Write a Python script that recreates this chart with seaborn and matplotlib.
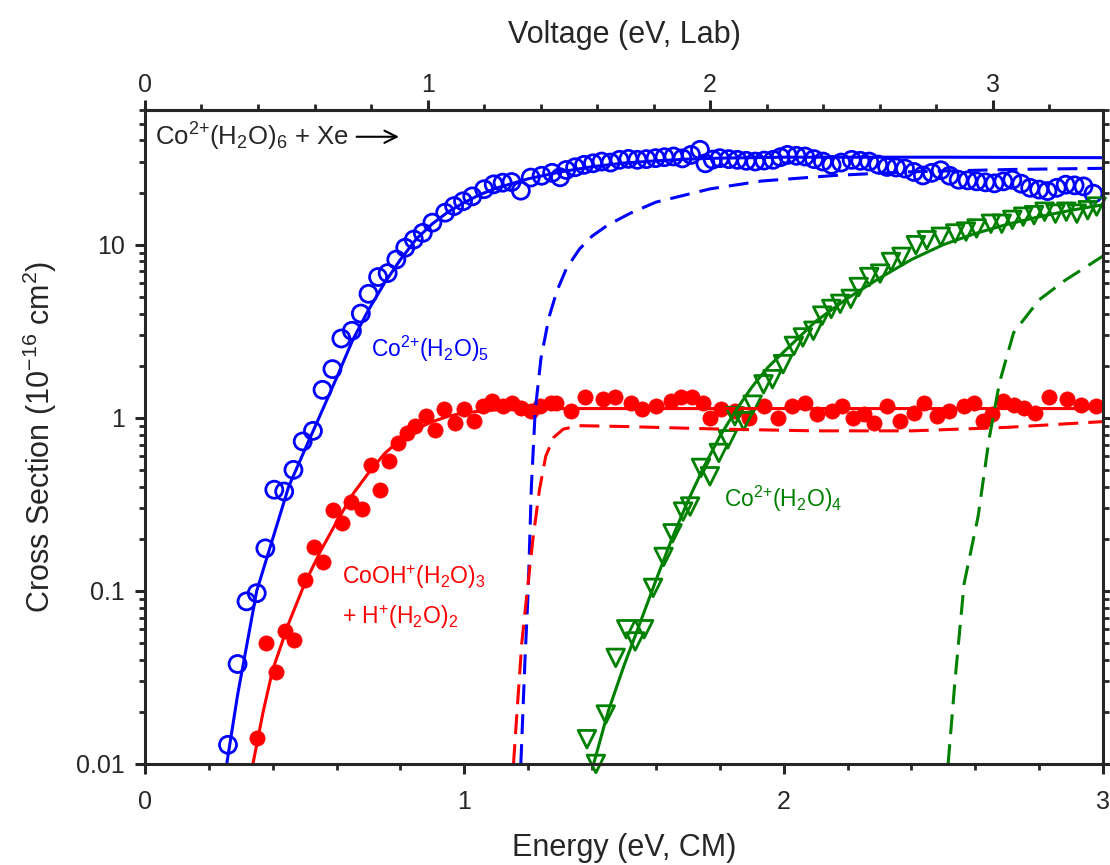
import matplotlib
matplotlib.use("Agg")
import numpy as np
import pandas as pd
import matplotlib.pyplot as plt
import seaborn as sns
from matplotlib.ticker import MultipleLocator, LogLocator, NullFormatter, FixedLocator

# ---------------- data ----------------
# Co2+(H2O)5 product (open blue circles)
blue_E = [0.260, 0.290, 0.318, 0.350, 0.377, 0.405, 0.436, 0.465, 0.494, 0.526,
          0.556, 0.587, 0.615, 0.648, 0.676, 0.700, 0.730, 0.760, 0.787, 0.815,
          0.842, 0.870, 0.900, 0.940, 0.968, 0.996, 1.025, 1.062, 1.092, 1.120,
          1.148, 1.177, 1.208, 1.242, 1.275, 1.300, 1.319, 1.347, 1.375, 1.403,
          1.430, 1.458, 1.486, 1.514, 1.542, 1.570, 1.599, 1.627, 1.655, 1.683,
          1.710, 1.738, 1.755, 1.778, 1.800, 1.828, 1.855, 1.883, 1.911, 1.939,
          1.967, 1.990, 2.012, 2.040, 2.067, 2.095, 2.123, 2.150, 2.180, 2.213,
          2.240, 2.268, 2.296, 2.324, 2.352, 2.380, 2.408, 2.436, 2.464, 2.492,
          2.520, 2.548, 2.576, 2.604, 2.632, 2.660, 2.688, 2.716, 2.744, 2.772,
          2.800, 2.826, 2.855, 2.883, 2.911, 2.939, 2.970]
blue_S = [0.0129, 0.0378, 0.087, 0.097, 0.176, 0.384, 0.375, 0.50, 0.73, 0.84,
          1.45, 1.91, 2.87, 3.18, 4.0, 5.2, 6.5, 6.85, 8.2, 9.6,
          10.7, 11.7, 13.4, 15.3, 16.7, 17.8, 19.0, 20.9, 22.3, 22.8,
          23.0, 20.5, 24.4, 25.0, 26.0, 24.5, 27.0, 28.0, 28.9, 29.5,
          30.2, 29.8, 30.9, 31.3, 30.9, 31.2, 31.6, 32.0, 32.3, 31.5,
          33.0, 35.3, 29.5, 31.0, 31.6, 31.2, 30.9, 30.5, 30.2, 30.6,
          30.9, 32.0, 33.0, 32.6, 32.3, 31.2, 30.2, 28.9, 29.8, 30.9,
          30.5, 30.2, 29.0, 28.1, 27.9, 27.5, 26.3, 25.1, 26.0, 26.9,
          25.0, 23.7, 23.5, 23.2, 22.9, 22.6, 23.2, 23.7, 22.5, 21.3,
          20.8, 20.4, 21.3, 22.2, 22.0, 21.7, 19.7]

# CoOH+(H2O)3 + H+(H2O)2 product (filled red circles)
red_E = [0.351, 0.380, 0.410, 0.438, 0.468, 0.500, 0.528, 0.556, 0.589, 0.617,
         0.645, 0.679, 0.707, 0.735, 0.763, 0.791, 0.819, 0.847, 0.880, 0.908,
         0.936, 0.970, 0.998, 1.031, 1.059, 1.087, 1.121, 1.149, 1.177, 1.210,
         1.238, 1.272, 1.288, 1.333, 1.378, 1.434, 1.473, 1.523, 1.557, 1.601,
         1.647, 1.680, 1.714, 1.747, 1.770, 1.803, 1.848, 1.893, 1.937, 1.982,
         2.027, 2.066, 2.105, 2.150, 2.184, 2.217, 2.251, 2.284, 2.323, 2.363,
         2.407, 2.441, 2.480, 2.519, 2.564, 2.597, 2.625, 2.653, 2.687, 2.720,
         2.754, 2.787, 2.832, 2.888, 2.932, 2.977]
red_S = [0.0141, 0.050, 0.034, 0.059, 0.052, 0.116, 0.18, 0.147, 0.294, 0.246,
         0.328, 0.296, 0.536, 0.384, 0.56, 0.716, 0.82, 0.895, 1.02, 0.855,
         1.12, 0.935, 1.12, 0.956, 1.17, 1.25, 1.17, 1.22, 1.14, 1.09,
         1.17, 1.22, 1.22, 1.09, 1.31, 1.28, 1.31, 1.22, 1.12, 1.17,
         1.25, 1.31, 1.31, 1.22, 1.00, 1.12, 1.09, 1.00, 1.17, 1.00,
         1.17, 1.22, 1.05, 1.09, 1.17, 1.00, 1.05, 0.935, 1.17, 0.956,
         1.07, 1.22, 1.02, 1.09, 1.17, 1.22, 0.956, 1.05, 1.25, 1.19,
         1.14, 1.07, 1.31, 1.28, 1.19, 1.17]

# Co2+(H2O)4 product (open green down-triangles)
green_E = [1.384, 1.412, 1.443, 1.474, 1.507, 1.535, 1.563, 1.591, 1.624, 1.652,
           1.685, 1.707, 1.741, 1.769, 1.797, 1.825, 1.847, 1.875, 1.903, 1.937,
           1.965, 1.998, 2.032, 2.060, 2.093, 2.121, 2.149, 2.177, 2.210, 2.235,
           2.268, 2.302, 2.336, 2.369, 2.414, 2.448, 2.492, 2.537, 2.571, 2.604,
           2.649, 2.683, 2.716, 2.750, 2.784, 2.817, 2.851, 2.885, 2.918, 2.952,
           2.980]
green_S = [0.0139, 0.0100, 0.0193, 0.041, 0.060, 0.051, 0.060, 0.104, 0.157, 0.215,
           0.287, 0.307, 0.513, 0.459, 0.626, 0.75, 1.02, 0.956, 1.19, 1.56,
           1.67, 2.04, 2.6, 2.91, 3.18, 3.89, 4.25, 4.55, 4.86, 5.69,
           6.5, 6.8, 7.94, 8.5, 9.93, 10.6, 11.1, 11.6, 11.9, 12.4,
           13.2, 13.2, 13.9, 14.5, 14.8, 15.5, 15.1, 15.5, 15.1, 15.8,
           16.6]

# model curves (solid: convoluted fits, dashed: unconvoluted)
blue_fit_E = [0.256, 0.29, 0.32, 0.35, 0.40, 0.45, 0.50, 0.545, 0.60, 0.65, 0.70, 0.75,
              0.80, 0.85, 0.90, 0.95, 1.00, 1.05, 1.10, 1.20, 1.30, 1.40, 1.50, 1.60,
              1.70, 1.80, 2.00, 2.50, 3.00]
blue_fit_S = [0.01, 0.025, 0.05, 0.10, 0.20, 0.40, 0.65, 1.0, 1.7, 2.8, 4.2, 6.0,
              8.2, 10.8, 13.2, 15.5, 17.5, 19.5, 21.2, 24.0, 26.3, 28.2, 29.6, 30.5,
              31.2, 31.6, 32.0, 32.0, 31.8]
blue_dash_E = [1.177, 1.19, 1.20, 1.21, 1.222, 1.24, 1.265, 1.29, 1.32, 1.36, 1.40,
               1.45, 1.52, 1.60, 1.77, 1.93, 2.16, 2.38, 2.72, 3.00]
blue_dash_S = [0.01, 0.04, 0.10, 0.40, 1.1, 2.2, 3.8, 5.4, 7.3, 9.4, 11.2,
               13.0, 15.2, 17.6, 21.0, 23.3, 25.1, 26.3, 27.2, 27.6]
red_fit_E = [0.338, 0.37, 0.40, 0.45, 0.50, 0.55, 0.60, 0.65, 0.70, 0.75, 0.80,
             0.85, 0.90, 0.95, 1.00, 1.10, 1.20, 1.50, 2.00, 3.00]
red_fit_S = [0.01, 0.02, 0.035, 0.065, 0.11, 0.17, 0.25, 0.36, 0.48, 0.62, 0.75,
             0.86, 0.95, 1.02, 1.07, 1.11, 1.13, 1.13, 1.13, 1.13]
red_dash_E = [1.154, 1.165, 1.18, 1.197, 1.215, 1.235, 1.255, 1.28, 1.31, 1.36,
              1.50, 1.80, 2.10, 2.40, 2.70, 3.00]
red_dash_S = [0.01, 0.02, 0.05, 0.10, 0.20, 0.38, 0.60, 0.77, 0.86, 0.90,
              0.89, 0.86, 0.84, 0.84, 0.88, 0.95]
green_fit_E = [1.405, 1.45, 1.50, 1.55, 1.60, 1.65, 1.70, 1.75, 1.80, 1.85, 1.90,
               1.95, 2.00, 2.10, 2.20, 2.30, 2.40, 2.50, 2.60, 2.70, 2.80, 2.90, 3.00]
green_fit_S = [0.01, 0.02, 0.037, 0.065, 0.115, 0.20, 0.33, 0.52, 0.78, 1.1, 1.5,
               1.95, 2.4, 3.6, 4.9, 6.4, 8.2, 10.0, 11.6, 13.1, 14.5, 15.8, 17.0]
green_dash_E = [2.515, 2.537, 2.565, 2.609, 2.643, 2.676, 2.72, 2.80, 2.88, 3.00]
green_dash_S = [0.01, 0.031, 0.11, 0.27, 0.75, 1.6, 3.1, 4.8, 6.2, 8.6]

# axis tick values and labels
x_ticks = [0, 1, 2, 3]
x_labels = ["0", "1", "2", "3"]
y_ticks = [0.01, 0.1, 1, 10]
y_labels = ["0.01", "0.1", "1", "10"]
top_ticks = [0, 1, 2, 3]

# CM -> Lab voltage conversion factor
LAB_PER_CM = 1.13

BLUE, RED, GREEN = "#0000FF", "#FF0000", "#008000"

# ---------------- style ----------------
sns.set_style("ticks")
plt.rcParams['font.family'] = ['Liberation Sans', 'DejaVu Sans']
plt.rcParams['mathtext.default'] = 'regular'

fig = plt.figure(figsize=(11.1, 8.65), dpi=100)
ax = fig.add_axes([0.1306, 0.1168, 0.8631, 0.7561])

LW = 2.2

def curve(E, S, color, dashed=False):
    sns.lineplot(x=E, y=S, ax=ax, color=color, lw=LW, errorbar=None, sort=False)
    ln = ax.lines[-1]
    if dashed:
        ln.set_dashes([6.5, 3.3])

curve(blue_fit_E, blue_fit_S, BLUE)
curve(blue_dash_E, blue_dash_S, BLUE, dashed=True)
curve(red_fit_E, red_fit_S, RED)
curve(red_dash_E, red_dash_S, RED, dashed=True)
curve(green_fit_E, green_fit_S, GREEN)
curve(green_dash_E, green_dash_S, GREEN, dashed=True)

sns.scatterplot(x=blue_E, y=blue_S, ax=ax, marker='o', s=150,
                facecolor='none', edgecolor=BLUE, linewidth=2.0)
c = ax.collections[-1]; c.set_facecolor('none'); c.set_edgecolor(BLUE); c.set_clip_on(False)
sns.scatterplot(x=red_E, y=red_S, ax=ax, marker='o', s=120,
                color=RED, edgecolor=RED, linewidth=0.5)
ax.collections[-1].set_clip_on(False)
sns.scatterplot(x=green_E, y=green_S, ax=ax, marker='v', s=160,
                facecolor='none', edgecolor=GREEN, linewidth=2.0)
c = ax.collections[-1]; c.set_facecolor('none'); c.set_edgecolor(GREEN); c.set_clip_on(False)

ax.set_yscale('log')
ax.set_xlim(0, 3)
ax.set_ylim(0.01, 60)

ax.set_yticks(y_ticks, labels=y_labels)
ax.yaxis.set_minor_locator(LogLocator(base=10, subs=np.arange(2, 10)))
ax.yaxis.set_minor_formatter(NullFormatter())
ax.set_xticks(x_ticks, labels=x_labels)
ax.xaxis.set_minor_locator(MultipleLocator(0.2))

for sp in ax.spines.values():
    sp.set_linewidth(2.2)
    sp.set_visible(True)

ax.tick_params(which='major', direction='out', length=7.5, width=2.2, labelsize=18,
               left=True, right=True, bottom=True, top=False)
ax.tick_params(axis='x', which='major', pad=11)
ax.tick_params(axis='y', which='major', pad=7)
ax.tick_params(which='minor', direction='out', length=4.5, width=2.0,
               left=True, right=True, bottom=True, top=False)

sec = ax.secondary_xaxis('top', functions=(lambda e: e * LAB_PER_CM,
                                           lambda v: v / LAB_PER_CM))
sec.xaxis.set_major_locator(FixedLocator(top_ticks))
sec.xaxis.set_minor_locator(MultipleLocator(0.2))
sec.tick_params(which='major', direction='out', length=7.5, width=2.2, labelsize=18, pad=1.5)
sec.tick_params(which='minor', direction='out', length=4.5, width=2.0)
sec.spines['top'].set_linewidth(2.2)
sec.set_xlabel("Voltage (eV, Lab)", fontsize=22, labelpad=22)

ax.set_xlabel("Energy (eV, CM)", fontsize=22, labelpad=14)
ax.set_ylabel("Cross Section (10$^{-16}$ cm$^{2}$)", fontsize=22, labelpad=12)

# annotations
ax.text(0.010, 0.959, "Co$^{2{+}}$(H$_2$O)$_6$ + Xe", transform=ax.transAxes,
        fontsize=18.5, ha='left', va='center')
ax.annotate("", xy=(0.268, 0.959), xytext=(0.218, 0.959), xycoords='axes fraction',
            arrowprops=dict(arrowstyle='->', lw=1.5, color='black', mutation_scale=22))
ax.text(0.707, 2.5, "Co$^{2{+}}$(H$_2$O)$_5$", color=BLUE, fontsize=16.5, ha='left', va='center')
ax.text(0.617, 0.12, "CoOH$^{+}$(H$_2$O)$_3$", color=RED, fontsize=16.5, ha='left', va='center')
ax.text(0.617, 0.071, "+ H$^{+}$(H$_2$O)$_2$", color=RED, fontsize=16.5, ha='left', va='center')
ax.text(1.814, 0.34, "Co$^{2{+}}$(H$_2$O)$_4$", color=GREEN, fontsize=16.5, ha='left', va='center')

fig.savefig("out.png", dpi=100)
